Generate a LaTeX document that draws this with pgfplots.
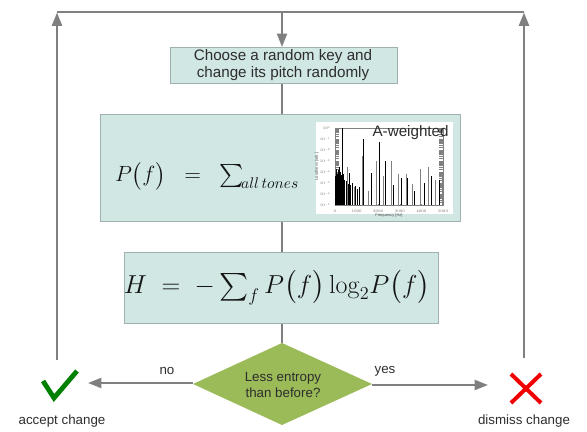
\RequirePackage{fix-cm}
\documentclass[border=0pt]{standalone}
\usepackage{exscale}
\usepackage{pgfplots}
\pgfplotsset{compat=1.18}
\usepackage[no-math]{fontspec}
\setmainfont{Liberation Sans}
\usetikzlibrary{arrows.meta}

\definecolor{boxfill}{RGB}{208,231,228}
\definecolor{boxedge}{RGB}{160,176,176}
\definecolor{linegray}{RGB}{128,128,128}
\definecolor{diafill}{RGB}{155,187,89}
\definecolor{txt}{RGB}{45,45,45}
\definecolor{mathc}{RGB}{20,20,20}
\definecolor{okgreen}{RGB}{0,128,0}
\definecolor{nored}{RGB}{240,0,0}

\tikzset{
  conn/.style={linegray, line width=1.5pt},
  arr/.style={conn, -{Triangle[length=10pt,width=7.5pt]}},
}

\begin{document}
\begin{tikzpicture}
% canvas in pixel units of the reference (y counted from the top)
\begin{axis}[
  name=main,
  scale only axis, width=440.25pt, height=323.25pt,
  xmin=0, xmax=587, ymin=0, ymax=431, y dir=reverse,
  hide axis, clip=false,
]
\path (axis cs:0,0) rectangle (axis cs:587,431);
% loop lines
\draw[conn] (axis cs:57,12) -- (axis cs:524,12);
\draw[arr] (axis cs:57,360) -- (axis cs:57,12.5);
\draw[arr] (axis cs:524,358) -- (axis cs:524,12.5);
\draw[arr] (axis cs:282,12) -- (axis cs:282,47);
\draw[conn] (axis cs:282,83) -- (axis cs:282,114);
\draw[conn] (axis cs:282,221) -- (axis cs:282,252);
\draw[conn] (axis cs:282,323) -- (axis cs:282,343);

% boxes
\filldraw[fill=boxfill, draw=boxedge, line width=0.6pt] (axis cs:170,47) rectangle (axis cs:397,83);
\filldraw[fill=boxfill, draw=boxedge, line width=0.6pt] (axis cs:100,114) rectangle (axis cs:460,221);
\filldraw[fill=boxfill, draw=boxedge, line width=0.6pt] (axis cs:124,252) rectangle (axis cs:438,323);
\fill[white] (axis cs:316,122) rectangle (axis cs:453,214);

\node[txt, align=center, font=\fontsize{11.4}{12.8}\selectfont] at (axis cs:283,65)
  {Choose a random key and\\change its pitch randomly};

\node[mathc, inner sep=0pt, font=\fontsize{16.5}{20}\selectfont] at (axis cs:207,176)
  {$P\bigl(f\bigr) \;\;=\;\; \textstyle\sum_{\!all\,tones}$};

\node[mathc, inner sep=0pt, font=\fontsize{19.5}{24}\selectfont] at (axis cs:277,288)
  {$H \;=\; -\textstyle\sum_f P\bigl(f\bigr)\log_2\! P\bigl(f\bigr)$};

% decision
\fill[diafill] (axis cs:282,343) -- (axis cs:372,384) -- (axis cs:282,425) -- (axis cs:193,384) -- cycle;
\node[txt, align=center, font=\fontsize{10}{12}\selectfont] at (axis cs:283,385)
  {Less entropy\\than before?};
\draw[arr] (axis cs:193,383) -- (axis cs:88,383);
\draw[arr] (axis cs:372,385) -- (axis cs:488,385);
\node[txt, font=\fontsize{10}{12}\selectfont] at (axis cs:167,371) {no};
\node[txt, font=\fontsize{10}{12}\selectfont] at (axis cs:385,371) {yes};

% outcomes
\draw[okgreen, line width=3.6pt, line join=miter] (axis cs:43,381) -- (axis cs:54,398) -- (axis cs:77,371);
\draw[nored, line width=3pt] (axis cs:511,374) -- (axis cs:541,403);
\draw[nored, line width=3pt] (axis cs:541,374) -- (axis cs:511,403);
\node[txt, font=\fontsize{10}{12}\selectfont] at (axis cs:62,421) {accept change};
\node[txt, font=\fontsize{10}{12}\selectfont] at (axis cs:524,421) {dismiss change};

\coordinate (insetsw) at (axis cs:335,205);
\end{axis}

% small spectrum inside the middle box
\begin{axis}[
  at={(insetsw)}, anchor=south west,
  scale only axis, width=81pt, height=57.75pt,
  xmin=0, xmax=5000, ymode=log, ymin=1e-7, ymax=1,
  log origin y=infty,
  xtick={0,1000,2000,3000,4000,5000},
  ytick={1e-7,1e-6,1e-5,1e-4,1e-3,1e-2,1e-1,1},
  axis line style={gray, line width=0.2pt},
  tick style={gray, line width=0.15pt}, major tick length=1pt,
  tick label style={font=\fontsize{2.8}{3}\selectfont, black!60},
  /pgf/number format/1000 sep={},
  scaled x ticks=false,
  xlabel={Frequency [Hz]}, ylabel={Loudness [arb.]},
  label style={font=\fontsize{3}{3.4}\selectfont, black!70},
  xlabel shift=-6pt, ylabel shift=-6pt,
  clip mode=individual,
]
\addplot[ycomb, black!50, line width=0.45pt] coordinates {
  (120,2e-5) (230,5e-5) (560,3e-4) (890,4e-6) (1250,3e-3) (1560,2e-6)
  (1900,1e-3) (2250,4e-5) (2600,1e-3) (2950,6e-5) (3300,6e-5) (3600,8e-6)
  (3950,2e-4) (4300,3e-4) (4650,2e-5) (4950,4e-5)
};
\addplot[ycomb, black, line width=0.35pt] coordinates {
  (20,4e-5) (50,1e-4) (80,2e-4) (110,6e-5) (140,1.5e-4) (170,8e-5)
  (200,3e-4) (250,1e-4) (280,5e-5) (350,3e-5) (400,6e-5) (450,2e-5)
  (500,1.5e-5) (600,8e-6) (700,6e-6) (800,1e-5) (950,5e-6) (1100,4e-6)
  (312,1) (672,8e-5) (1030,3e-6) (1330,1e-1) (1690,8e-5) (2030,5e-2)
  (2340,1e-3) (2700,6e-6) (3050,3e-5) (3360,3e-5) (3670,2e-6)
  (4110,1e-5) (4470,4e-5) (4840,2e-5)
};
\node[txt, anchor=center, inner sep=0pt, font=\fontsize{11.4}{12.8}\selectfont]
  at (rel axis cs:0.70,0.935) {A-weighted};
\end{axis}
\end{tikzpicture}
\end{document}
